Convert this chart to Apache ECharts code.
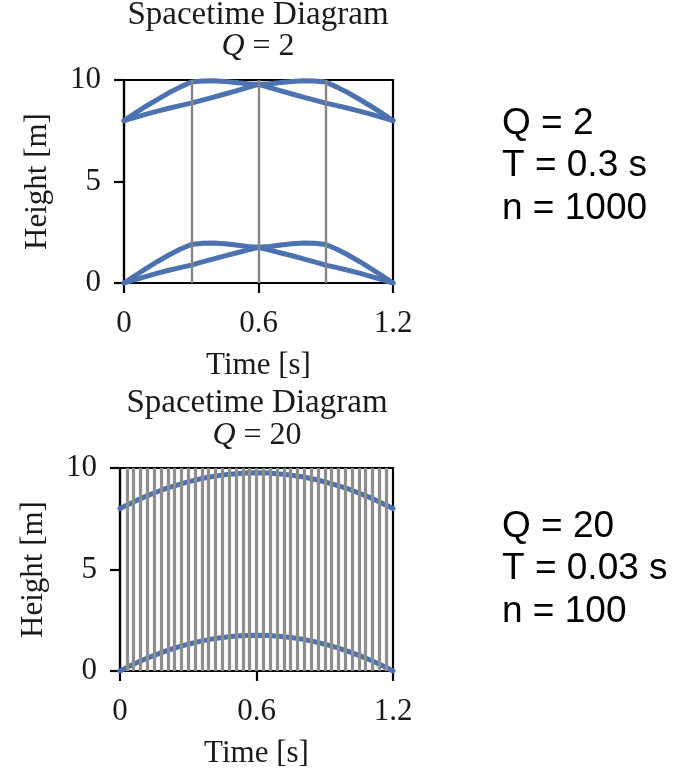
<!DOCTYPE html>
<html>
<head>
<meta charset="utf-8">
<script src="https://cdn.jsdelivr.net/npm/echarts@6/dist/echarts.min.js"></script>
<style>
html,body{margin:0;padding:0;background:#fff;}
#chart{width:676px;height:773px;}
</style>
</head>
<body>
<div id="chart"></div>
<script>
// ---------- data ----------
const timeTicks = [0, 0.6, 1.2];
const heightTicks = [0, 5, 10];

// top panel (Q = 2): sample times
const tTop = [0,0.05,0.1,0.15,0.2,0.25,0.3,0.35,0.4,0.45,0.5,0.55,0.6,0.65,0.7,0.75,0.8,0.85,0.9,0.95,1.0,1.05,1.1,1.15,1.2];
const lowFast = [0,0.37,0.72,1.06,1.38,1.66,1.9,1.96,1.97,1.93,1.87,1.8,1.76,1.8,1.87,1.93,1.97,1.96,1.9,1.66,1.38,1.06,0.72,0.37,0];
const lowSlow = [0,0.17,0.33,0.49,0.63,0.76,0.88,1.04,1.19,1.34,1.48,1.62,1.76,1.62,1.48,1.34,1.19,1.04,0.88,0.76,0.63,0.49,0.33,0.17,0];
const highFast = [8,8.37,8.72,9.05,9.37,9.65,9.9,9.95,9.96,9.93,9.88,9.82,9.78,9.82,9.88,9.93,9.96,9.95,9.9,9.65,9.37,9.05,8.72,8.37,8];
const highSlow = [8,8.16,8.32,8.47,8.61,8.74,8.86,9.01,9.16,9.31,9.46,9.62,9.78,9.62,9.46,9.31,9.16,9.01,8.86,8.74,8.61,8.47,8.32,8.16,8];
const topFrames = [0.3, 0.6, 0.9];

// bottom panel (Q = 20)
const tBot = [0,0.05,0.1,0.15,0.2,0.25,0.3,0.35,0.4,0.45,0.5,0.55,0.6,0.65,0.7,0.75,0.8,0.85,0.9,0.95,1.0,1.05,1.1,1.15,1.2];
const botLow = [0,0.28,0.54,0.77,0.98,1.16,1.32,1.46,1.57,1.65,1.71,1.75,1.76,1.75,1.71,1.65,1.57,1.46,1.32,1.16,0.98,0.77,0.54,0.28,0];
const botHigh = [8,8.28,8.54,8.77,8.98,9.16,9.32,9.46,9.57,9.65,9.71,9.75,9.76,9.75,9.71,9.65,9.57,9.46,9.32,9.16,8.98,8.77,8.54,8.28,8];
const botFrames = [0.03,0.06,0.09,0.12,0.15,0.18,0.21,0.24,0.27,0.3,0.33,0.36,0.39,0.42,0.45,0.48,0.51,0.54,0.57,0.6,
                   0.63,0.66,0.69,0.72,0.75,0.78,0.81,0.84,0.87,0.9,0.93,0.96,0.99,1.02,1.05,1.08,1.11,1.14,1.17];

const panelTitles = ['Spacetime Diagram', 'Spacetime Diagram'];
const panelQ = ['2', '20'];
const notesTop = ['Q = 2', 'T = 0.3 s', 'n = 1000'];
const notesBot = ['Q = 20', 'T = 0.03 s', 'n = 100'];

// ---------- style ----------
const SERIF = "'Liberation Serif', 'DejaVu Serif', serif";
const SANS = "'Liberation Sans', Arial, sans-serif";
const BLUE = '#4C72B0';
const GRAY = '#858585';

const pair = (ts, ys) => ts.map((t, i) => [t, ys[i]]);

function xAx(gi) {
  return {
    gridIndex: gi, type: 'value', min: 0, max: 1.2, interval: 0.6,
    axisLine: {show: true, lineStyle: {color: '#000', width: 2.2}},
    axisTick: {show: true, inside: false, length: 10, lineStyle: {color: '#000', width: 2.2}},
    axisLabel: {fontFamily: SERIF, fontSize: 31, color: '#1a1a1a', margin: 25,
      formatter: v => (timeTicks.indexOf(v) >= 0 ? String(v) : '')},
    splitLine: {show: false},
    name: 'Time [s]', nameLocation: 'middle', nameGap: 67,
    nameTextStyle: {fontFamily: SERIF, fontSize: 31, color: '#1a1a1a'}
  };
}
function yAx(gi) {
  return {
    gridIndex: gi, type: 'value', min: 0, max: 10, interval: 5,
    axisLine: {show: true, lineStyle: {color: '#000', width: 2.2}},
    axisTick: {show: true, inside: false, length: 10, lineStyle: {color: '#000', width: 2.2}},
    axisLabel: {fontFamily: SERIF, fontSize: 31, color: '#1a1a1a', margin: 23,
      formatter: v => (heightTicks.indexOf(v) >= 0 ? String(v) : '')},
    splitLine: {show: false},
    name: 'Height [m]', nameLocation: 'middle', nameGap: 71,
    nameTextStyle: {fontFamily: SERIF, fontSize: 31, color: '#1a1a1a'}
  };
}
function curve(gi, ts, ys, z) {
  return {
    type: 'line', xAxisIndex: gi, yAxisIndex: gi, data: pair(ts, ys),
    showSymbol: false, symbol: 'none', smooth: false, z: z,
    lineStyle: {color: BLUE, width: 5, cap: 'round', join: 'round'}, silent: true
  };
}
function frames(gi, xs, z, color, width) {
  return {
    type: 'line', xAxisIndex: gi, yAxisIndex: gi, data: [], z: z, silent: true,
    markLine: {
      silent: true, symbol: ['none', 'none'], label: {show: false}, animation: false,
      lineStyle: {color: color, width: width, type: 'solid'},
      emphasis: {disabled: true},
      data: xs.map(x => ({xAxis: x}))
    }
  };
}

const graphics = [];
function panelTitle(i, yLine1, yLine2, cx) {
  graphics.push({type: 'text', x: cx, y: yLine1, z: 10,
    style: {text: panelTitles[i], font: `33px ${SERIF}`, fill: '#1a1a1a', align: 'center', verticalAlign: 'middle'}});
  graphics.push({type: 'text', x: cx, y: yLine2, z: 10,
    style: {text: '{q|Q}{n| = ' + panelQ[i] + '}', align: 'center', verticalAlign: 'middle',
      rich: {q: {font: `italic 32px ${SERIF}`, fill: '#1a1a1a'}, n: {font: `32px ${SERIF}`, fill: '#1a1a1a'}}}});
}
panelTitle(0, 15, 47, 258);
panelTitle(1, 403, 436, 257);

function notes(lines, ys) {
  lines.forEach((s, k) => graphics.push({type: 'text', x: 502, y: ys[k], z: 10,
    style: {text: s, font: `37px ${SANS}`, fill: '#000', align: 'left', verticalAlign: 'middle'}}));
}
notes(notesTop, [124, 166, 209]);
notes(notesBot, [527, 569, 612]);

const option = {
  backgroundColor: '#ffffff',
  animation: false,
  grid: [
    {left: 124, top: 80, width: 269, height: 203, show: true, borderColor: '#000', borderWidth: 2.2, backgroundColor: 'rgba(0,0,0,0)'},
    {left: 120, top: 468, width: 273, height: 203, show: true, borderColor: '#000', borderWidth: 2.2, backgroundColor: 'rgba(0,0,0,0)'}
  ],
  xAxis: [xAx(0), xAx(1)],
  yAxis: [yAx(0), yAx(1)],
  series: [
    frames(0, topFrames, 1, GRAY, 2.4),
    curve(0, tTop, lowFast, 3),
    curve(0, tTop, lowSlow, 3),
    curve(0, tTop, highFast, 3),
    curve(0, tTop, highSlow, 3),
    curve(1, tBot, botLow, 3),
    curve(1, tBot, botHigh, 3),
    frames(1, botFrames, 5, '#8e8e8e', 3.2)
  ],
  graphic: graphics
};

const chart = echarts.init(document.getElementById('chart'), null, {renderer: 'canvas'});
chart.setOption(option);
</script>
</body>
</html>
